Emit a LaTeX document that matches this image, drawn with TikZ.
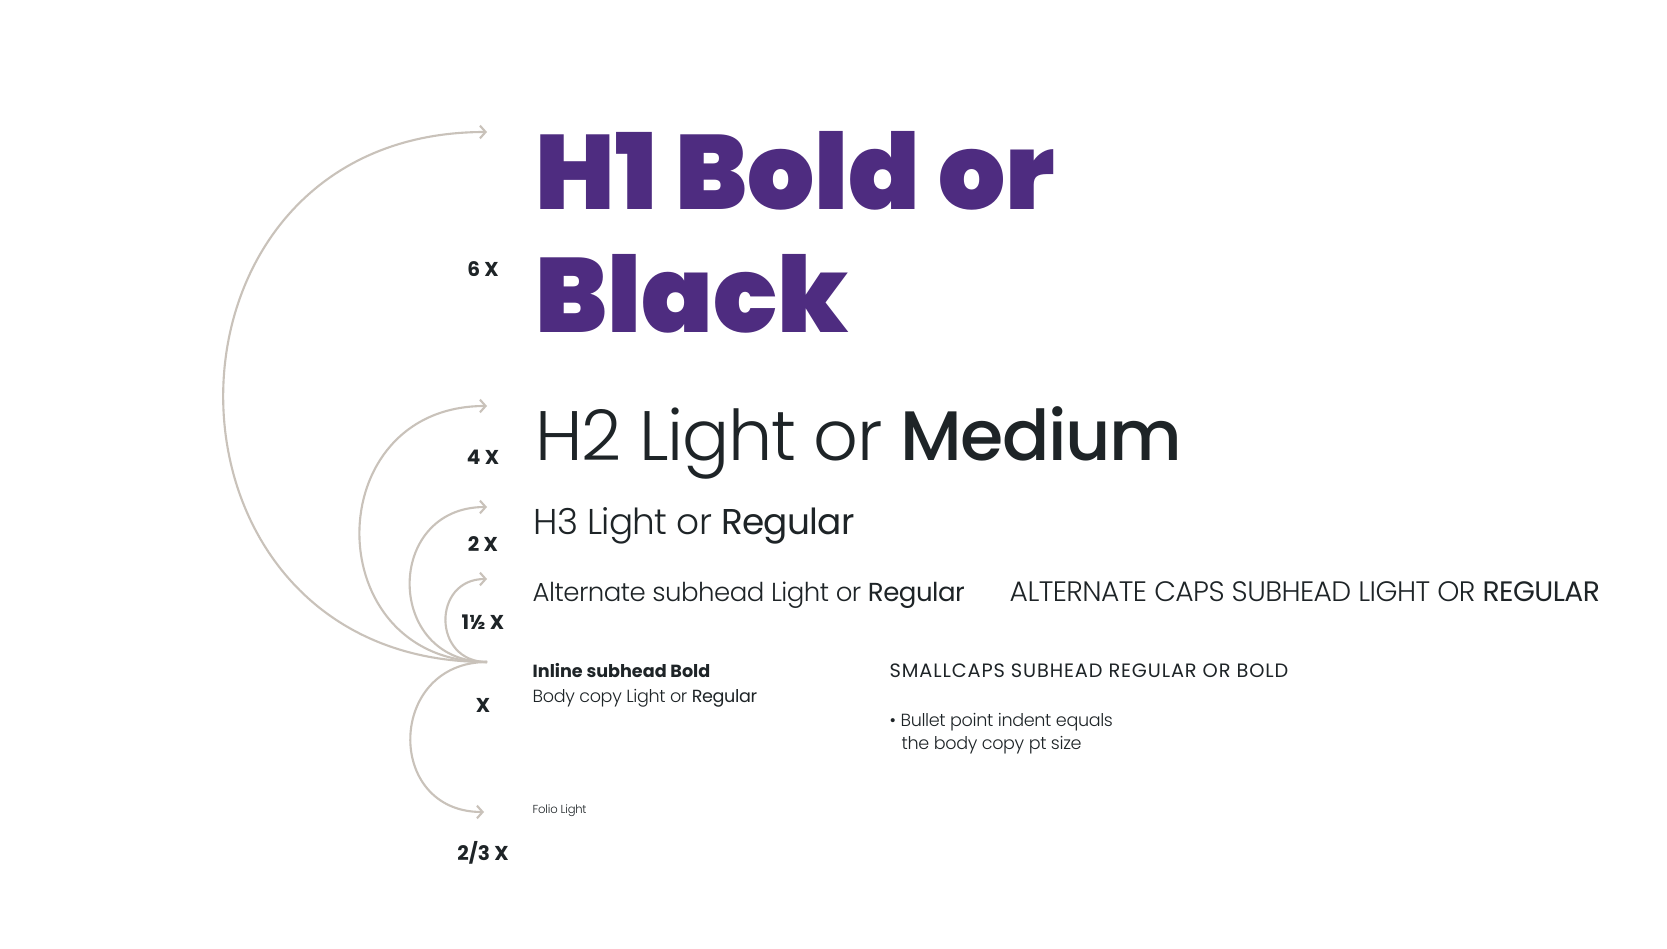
\documentclass[tikz,border=0pt]{standalone}
\usepackage{fontspec}
\setmainfont{Poppins}
\newfontfamily\lightf{Poppins}[UprightFont=* Light, LetterSpace=-2]
\newfontfamily\regf{Poppins}[UprightFont=* Regular, LetterSpace=-2]
\newfontfamily\medf{Poppins}[UprightFont=* Medium, LetterSpace=-2]
\newfontfamily\boldf{Poppins}[UprightFont=* Bold]
\newfontfamily\blackf{Poppins}[UprightFont=* Black]
\newfontfamily\spacedf{Poppins}[UprightFont=* Regular, LetterSpace=4.5]
\usetikzlibrary{arrows.meta}
\definecolor{brandpurple}{HTML}{4E2C80}
\definecolor{inkdark}{HTML}{1E2427}
\definecolor{arcgrey}{HTML}{C9C2BA}

\begin{document}
\begin{tikzpicture}[x=0.01cm,y=-0.01cm,
  arcline/.style={draw=arcgrey,line width=0.6pt,-{Straight Barb[length=1.6pt,width=3.6pt]}},
  txt/.style={inner sep=0pt,anchor=base west,text=inkdark},
  scalelabel/.style={inner sep=0pt,anchor=base,text=inkdark,font=\boldf\fontsize{5.7}{6}\selectfont},
  hone/.style={txt,text=brandpurple,font=\blackf\fontsize{30}{32}\selectfont},
  htwo/.style={txt,font=\lightf\fontsize{19.9}{24}\selectfont},
  hthree/.style={txt,font=\lightf\fontsize{10.2}{13}\selectfont},
  hsub/.style={txt,font=\lightf\fontsize{7.4}{10}\selectfont},
  hsubcaps/.style={txt,font=\lightf\fontsize{8}{10}\selectfont},
  bodytext/.style={txt,font=\lightf\fontsize{5}{7}\selectfont},
  spacedcaps/.style={txt,font=\spacedf\fontsize{5.5}{7}\selectfont},
  foliotext/.style={txt,font=\lightf\fontsize{3.3}{4.5}\selectfont}]
\useasboundingbox[fill=white] (0,0) rectangle (1667,949);

\coordinate (hub) at (487,662);
\coordinate (tip6) at (487,132);
\coordinate (tip4) at (487,406);
\coordinate (tip2) at (487,507);
\coordinate (tip15) at (487,579);
\coordinate (tip23) at (484,812);

\draw[arcline] (hub) to[out=180,in=180,looseness=1.7] (tip6);
\draw[arcline] (hub) to[out=180,in=180,looseness=1.7] (tip4);
\draw[arcline] (hub) to[out=180,in=180,looseness=1.7] (tip2);
\draw[arcline] (hub) to[out=180,in=180,looseness=1.7] (tip15);
\draw[arcline] (hub) to[out=180,in=180,looseness=1.7] (tip23);

\node[scalelabel] (six) at (483,277) {6 X};
\node[scalelabel] (four) at (483,464) {4 X};
\node[scalelabel] (two) at (483,551) {2 X};
\node[scalelabel] (onehalf) at (483,629) {1½ X};
\node[scalelabel] (one) at (483,712) {X};
\node[scalelabel] (twothirds) at (483,860) {2/3 X};

\node[hone] (h1a) at (535,210) {H1 Bold or};
\node[hone] (h1b) at (535,333) {Black};
\node[htwo] (h2) at (535,460) {H2 Light or {\medf Medium}};
\node[hthree] (h3) at (533,534) {H3 Light or {\regf Regular}};
\node[hsub] (alt) at (532,601) {Alternate subhead Light or {\regf Regular}};
\node[hsubcaps] (altcaps) at (1009,601) {ALTERNATE CAPS SUBHEAD LIGHT OR {\regf REGULAR}};
\node[bodytext,font=\boldf\fontsize{5}{7}\selectfont] (inline) at (532,677) {Inline subhead Bold};
\node[bodytext] (body) at (532,702) {Body copy Light or {\regf Regular}};
\node[spacedcaps] (smallcaps) at (889,677) {SMALLCAPS SUBHEAD REGULAR OR BOLD};
\node[bodytext] (bulleta) at (889,726) {• Bullet point indent equals};
\node[bodytext] (bulletb) at (901,749) {the body copy pt size};
\node[foliotext] (folio) at (532,813) {Folio Light};
\end{tikzpicture}
\end{document}
